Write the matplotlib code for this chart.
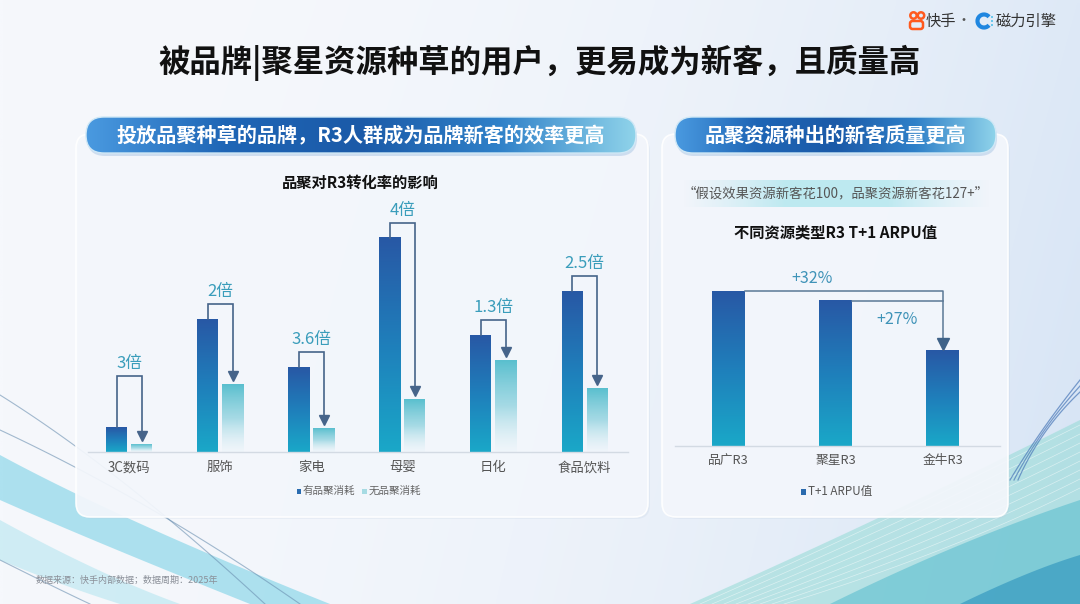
import numpy as np
import matplotlib
matplotlib.use('Agg')
import matplotlib.pyplot as plt
import matplotlib.colors as mcolors
from matplotlib.patches import FancyBboxPatch, Polygon, Rectangle, Circle, Arc

plt.rcParams['font.family'] = ['Noto Sans CJK SC', 'DejaVu Sans']

# 数据
categories = ['3C数码', '服饰', '家电', '母婴', '日化', '食品饮料']
with_pinju = [25, 133, 85, 214, 117, 161]       # 有品聚消耗
without_pinju = [8, 68, 24, 53, 92, 64]         # 无品聚消耗
multiples = ['3倍', '2倍', '3.6倍', '4倍', '1.3倍', '2.5倍']

arpu_cats = ['品广R3', '聚星R3', '金牛R3']
arpu_values = [132, 127, 100]                   # 金牛 = 100

title = '被品牌|聚星资源种草的用户，更易成为新客，且质量高'
left_header = '投放品聚种草的品牌，R3人群成为品牌新客的效率更高'
right_header = '品聚资源种出的新客质量更高'
quote = '“假设效果资源新客花100，品聚资源新客花127+”'
source = '数据来源：快手内部数据；数据周期：2025年'

W, H = 1080, 604
fig = plt.figure(figsize=(W / 100, H / 100), dpi=100)

# 背景层（像素坐标）
bg = fig.add_axes([0, 0, 1, 1])
bg.set_xlim(0, W)
bg.set_ylim(H, 0)
bg.axis('off')


def grad_img(ax, extent, colors, horizontal=False, zorder=1, clip=None, n=256):
    # colors: list of rgba along the gradient
    stops = np.linspace(0, 1, len(colors))
    t = np.linspace(0, 1, n)
    rgba = np.array([mcolors.to_rgba(c) if isinstance(c, str) else c for c in colors])
    arr = np.stack([np.interp(t, stops, rgba[:, k]) for k in range(4)], axis=1)
    if horizontal:
        arr = arr[None, :, :]
    else:
        arr = arr[:, None, :]
    im = ax.imshow(arr, extent=extent, origin='upper', aspect='auto',
                   interpolation='bilinear', zorder=zorder)
    if clip is not None:
        im.set_clip_path(clip)
    return im


# 背景渐变
yy, xx = np.mgrid[0:1:120j, 0:1:200j]
base = np.array(mcolors.to_rgb('#f6f8fc'))
blue = np.array(mcolors.to_rgb('#d6e4f5'))
w = np.clip(0.75 * xx ** 2.2 + 0.25 * yy * xx, 0, 1)[..., None]
bgarr = base * (1 - w) + blue * w
bg.imshow(bgarr, extent=(0, W, H, 0), aspect='auto', zorder=0, interpolation='bilinear')


def bez(p0, p1, p2, n=80):
    t = np.linspace(0, 1, n)[:, None]
    p0, p1, p2 = map(np.array, (p0, p1, p2))
    return (1 - t) ** 2 * p0 + 2 * (1 - t) * t * p1 + t ** 2 * p2


# 左下装饰
band = np.vstack([bez((0, 455), (120, 520), (330, 604)), bez((250, 604), (90, 540), (0, 500))])
bg.add_patch(Polygon(band, closed=True, fc='#86d5e8', alpha=0.65, lw=0, zorder=0.5))
band = np.vstack([bez((0, 520), (100, 575), (180, 604)), bez((120, 604), (60, 585), (0, 560))])
bg.add_patch(Polygon(band, closed=True, fc='#b6e6f0', alpha=0.6, lw=0, zorder=0.5))
for p in [((0, 395), (120, 470), (265, 604)), ((0, 430), (150, 500), (300, 604)),
          ((0, 560), (60, 590), (90, 604))]:
    c = bez(*p)
    bg.plot(c[:, 0], c[:, 1], color='#6a8fb0', lw=0.8, alpha=0.6, zorder=0.6)

# 右下装饰
band = np.vstack([bez((690, 604), (880, 520), (1080, 420)), bez((1080, 604), (900, 604), (690, 604))])
bg.add_patch(Polygon(band, closed=True, fc='#9adcd8', alpha=0.6, lw=0, zorder=0.5))
band = np.vstack([bez((830, 604), (960, 540), (1080, 500)), bez((1080, 604), (950, 604), (830, 604))])
bg.add_patch(Polygon(band, closed=True, fc='#3fb3c8', alpha=0.45, lw=0, zorder=0.5))
band = np.vstack([bez((960, 604), (1030, 570), (1080, 555)), bez((1080, 604), (1020, 604), (960, 604))])
bg.add_patch(Polygon(band, closed=True, fc='#1a86b8', alpha=0.5, lw=0, zorder=0.5))
for k in range(8):
    c = bez((700 + k * 12, 604), (880 + k * 10, 525 + k * 4), (1080, 425 + k * 9))
    bg.plot(c[:, 0], c[:, 1], color='white', lw=0.5, alpha=0.5, zorder=0.6)
for k in range(3):
    c = bez((1010 + k * 4, 480), (1040, 430), (1080, 380 + k * 6))
    bg.plot(c[:, 0], c[:, 1], color='#4a78b8', lw=0.9, alpha=0.7, zorder=0.6)

# 面板
for x0, x1 in [(76, 648), (662, 1008)]:
    bg.add_patch(FancyBboxPatch((x0 + 2, 137), x1 - x0, 382, boxstyle='round,pad=0,rounding_size=14',
                                fc='#b8c8dc', alpha=0.18, lw=0, zorder=1))
    bg.add_patch(FancyBboxPatch((x0, 134), x1 - x0, 383, boxstyle='round,pad=0,rounding_size=14',
                                fc='#f4f7fc', alpha=0.92, ec='white', lw=1.2, zorder=1.1))

# 标题
bg.text(540, 63, title, ha='center', va='center', fontsize=22.6, fontweight='bold',
        color='#111111', zorder=5)

# 页眉胶囊
pill_colors = ['#4a9ae0', '#1f66b6', '#1b5aa8', '#2f80c8', '#8fd3ea']
for (x0, x1), txt in [((86, 636), left_header), ((675, 996), right_header)]:
    bg.add_patch(FancyBboxPatch((x0 + 1, 120), x1 - x0, 36, boxstyle='round,pad=0,rounding_size=18',
                                fc='#7aa6d6', alpha=0.3, lw=0, zorder=2))
    pill = FancyBboxPatch((x0, 117), x1 - x0, 36, boxstyle='round,pad=0,rounding_size=18',
                          fc='none', ec='#cfe8f6', lw=1.0, zorder=3.1)
    bg.add_patch(pill)
    grad_img(bg, (x0, x1, 153, 117), pill_colors, horizontal=True, zorder=3, clip=pill)
    bg.text((x0 + x1) / 2, 135.5, txt, ha='center', va='center', fontsize=14.5,
            fontweight='bold', color='white', zorder=4)

# 引用框
qbox = Rectangle((683, 180), 307, 27, fc='none', lw=0, zorder=2)
bg.add_patch(qbox)
grad_img(bg, (683, 990, 207, 180),
         [(0.78, 0.92, 0.95, 0.0), (0.72, 0.91, 0.94, 0.9), (0.72, 0.91, 0.94, 0.9),
          (0.80, 0.93, 0.96, 0.0)], horizontal=True, zorder=2, clip=qbox)
bg.text(836, 193, quote, ha='center', va='center', fontsize=9.6, color='#555555', zorder=4)

# 来源
bg.text(36, 580, source, ha='left', va='center', fontsize=6.5, color='#8a8f98', zorder=4)

# Logo
bg.add_patch(Circle((913.5, 15.5), 3.2, fc='none', ec='#ff5a1f', lw=1.8, zorder=4))
bg.add_patch(Circle((921, 15.5), 3.2, fc='none', ec='#ff5a1f', lw=1.8, zorder=4))
bg.add_patch(FancyBboxPatch((910, 21), 13, 8, boxstyle='round,pad=0,rounding_size=2.5',
                            fc='none', ec='#ff5a1f', lw=1.8, zorder=4))
bg.text(926, 21, '快手', ha='left', va='center', fontsize=11, color='#333333', zorder=4)
bg.text(964, 21, '·', ha='center', va='center', fontsize=10, color='#555555', zorder=4)
bg.add_patch(Arc((984, 21), 13, 13, theta1=40, theta2=320, ec='#1f86e0', lw=3, zorder=4))
for dy in (-4, 0, 4):
    bg.add_patch(Circle((992, 21 + dy), 0.9, fc='#27b4e6', lw=0, zorder=4))
bg.text(996, 21, '磁力引擎', ha='left', va='center', fontsize=11, color='#333333', zorder=4)

# ---------------- 左图 ----------------
lx0, lx1, lyb, lyt = 88, 628, 452, 190
axL = fig.add_axes([lx0 / W, (H - lyb) / H, (lx1 - lx0) / W, (lyb - lyt) / H])
axL.patch.set_alpha(0)
x = np.arange(len(categories))
spacing = 91.1
bw = 21 / spacing
off = 12.5 / spacing
dark_bars = axL.bar(x - off, with_pinju, bw, fc='none', lw=0)
light_bars = axL.bar(x + off, without_pinju, bw, fc='none', lw=0)
dark_cols = ['#2858a5', '#1f7fbb', '#1aa8c8']
light_cols = [(0.35, 0.75, 0.81, 1.0), (0.55, 0.82, 0.87, 0.75), (0.92, 0.96, 0.98, 0.3)]
for r in dark_bars:
    grad_img(axL, (r.get_x(), r.get_x() + r.get_width(), 0, r.get_height()), dark_cols, zorder=2)
for r in light_bars:
    grad_img(axL, (r.get_x(), r.get_x() + r.get_width(), 0, r.get_height()), light_cols, zorder=2)

line_c = '#46648a'
for i in range(len(categories)):
    d, l = with_pinju[i], without_pinju[i]
    level = max(d + 15, 76)
    xa, xb = i - off, i + off
    axL.plot([xa, xa, xb, xb], [d, level, level, l + 12], color=line_c, lw=1.2,
             solid_joinstyle='miter', zorder=3)
    axL.plot([xb], [l + 8], marker='v', ms=7, color=line_c, mec=line_c, zorder=3)
    axL.text(i, level + 4, multiples[i], ha='center', va='bottom', fontsize=12,
             color='#3a9dbb', zorder=3)

axL.set_xlim((lx0 - 129) / spacing, (lx1 - 129) / spacing)
axL.set_ylim(0, lyb - lyt)
axL.set_xticks(x)
axL.set_xticklabels(categories, fontsize=9.6, color='#555555')
axL.tick_params(axis='x', length=0, pad=6)
axL.set_yticks([])
for s in ['top', 'right', 'left']:
    axL.spines[s].set_visible(False)
axL.spines['bottom'].set_color('#d3dae3')
axL.spines['bottom'].set_linewidth(1)

bg.text(360, 183, '品聚对R3转化率的影响', ha='center', va='center', fontsize=11,
        fontweight='bold', color='#111111', zorder=4)
bg.add_patch(Rectangle((296.5, 488.5), 4.5, 5, fc='#2a6cb0', lw=0, zorder=4))
bg.text(303, 491, '有品聚消耗', ha='left', va='center', fontsize=7.6, color='#666666', zorder=4)
bg.add_patch(Rectangle((362, 488.5), 4.5, 5, fc='#a6dbe3', lw=0, zorder=4))
bg.text(368.5, 491, '无品聚消耗', ha='left', va='center', fontsize=7.6, color='#666666', zorder=4)

# ---------------- 右图 ----------------
rx0, rx1, ryb, ryt = 675, 1000, 446, 250
axR = fig.add_axes([rx0 / W, (H - ryb) / H, (rx1 - rx0) / W, (ryb - ryt) / H])
axR.patch.set_alpha(0)
xr = np.arange(len(arpu_cats))
rsp = 107.0
ybase = 48
yscale = 1.84  # px per unit
rbars = axR.bar(xr, arpu_values, 33 / rsp, fc='none', lw=0)
for r in rbars:
    grad_img(axR, (r.get_x(), r.get_x() + r.get_width(), ybase, r.get_height()), dark_cols, zorder=2)

top0, top1, top2 = arpu_values
xe0 = rbars[0].get_x() + rbars[0].get_width()
xe1 = rbars[1].get_x() + rbars[1].get_width()
axR.plot([xe0, 2, 2], [top0, top0, top2 + 5], color='#5a7896', lw=1.1, zorder=3)
axR.plot([xe1, 2], [top1, top1], color='#5a7896', lw=1.1, zorder=3)
axR.plot([2], [top2 + 3.2], marker='v', ms=8, color='#3f6288', zorder=3)
axR.text(0.78, top0 + 2.5, '+%d%%' % round((top0 / top2 - 1) * 100), ha='center', va='bottom',
         fontsize=11.5, color='#3f93b8', zorder=3)
axR.text(1.575, top1 - 5.5, '+%d%%' % round((top1 / top2 - 1) * 100), ha='center', va='top',
         fontsize=11.5, color='#3f93b8', zorder=3)

axR.set_xlim((rx0 - 728.5) / rsp, (rx1 - 728.5) / rsp)
axR.set_ylim(ybase, ybase + (ryb - ryt) / yscale)
axR.set_xticks(xr)
axR.set_xticklabels(arpu_cats, fontsize=9.2, color='#555555')
axR.tick_params(axis='x', length=0, pad=6)
axR.set_yticks([])
for s in ['top', 'right', 'left']:
    axR.spines[s].set_visible(False)
axR.spines['bottom'].set_color('#d3dae3')
axR.spines['bottom'].set_linewidth(1)

bg.text(836, 232, '不同资源类型R3 T+1 ARPU值', ha='center', va='center', fontsize=11,
        fontweight='bold', color='#111111', zorder=4)
bg.add_patch(Rectangle((801, 489), 5, 5.5, fc='#2a6aae', lw=0, zorder=4))
bg.text(808, 492, 'T+1 ARPU值', ha='left', va='center', fontsize=8.4, color='#555555', zorder=4)

fig.savefig('out.png', dpi=100)
